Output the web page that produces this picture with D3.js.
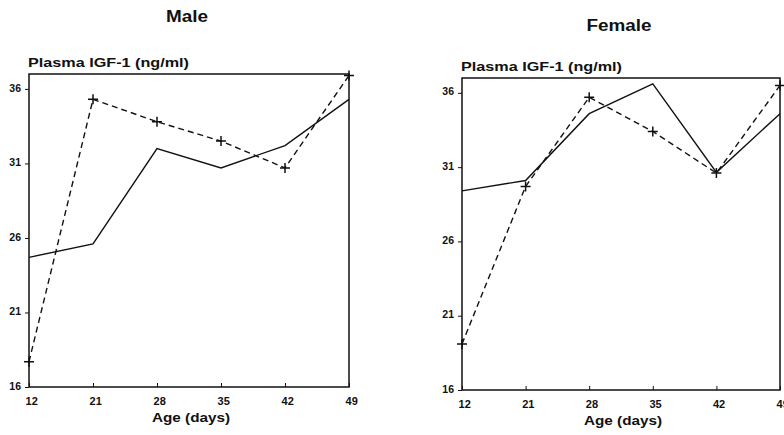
<!DOCTYPE html>
<html>
<head>
<meta charset="utf-8">
<script src="https://cdn.jsdelivr.net/npm/d3@7"></script>
<style>
  body { margin: 0; background: #fff; }
  text { font-family: "Liberation Sans", Arial, sans-serif; font-weight: bold; fill: #111; }
</style>
</head>
<body>
<div id="chart"></div>
<script>
// Data
const ages = ["12", "21", "28", "35", "42", "49"];
const yTicks = [16, 21, 26, 31, 36];
const maleSolid = [24.7, 25.6, 32.0, 30.7, 32.2, 35.3];
const maleDashed = [17.7, 35.3, 33.8, 32.5, 30.7, 36.9];
const femaleSolid = [29.4, 30.1, 34.6, 36.6, 30.65, 34.6];
const femaleDashed = [19.1, 29.7, 35.7, 33.4, 30.6, 36.5];

const width = 784;
const height = 435;

const svg = d3.select("#chart")
    .append("svg")
    .attr("width", width)
    .attr("height", height);

// Panel boxes (left, right, top, bottom)
const panels = [
    { title: "Male", titleW: 42, x0: 29, x1: 349, y0: 74, y1: 387, titleY: 22, solid: maleSolid, dashed: maleDashed },
    { title: "Female", titleW: 65, x0: 462, x1: 780, y0: 78, y1: 390, titleY: 31, solid: femaleSolid, dashed: femaleDashed }
];

panels.forEach(p => {
    const x = d3.scalePoint().domain(ages).range([p.x0, p.x1]);
    const y = d3.scaleLinear().domain([16, 37]).range([p.y1, p.y0]);

    const g = svg.append("g");

    // Frame
    g.append("rect")
        .attr("x", p.x0)
        .attr("y", p.y0)
        .attr("width", p.x1 - p.x0)
        .attr("height", p.y1 - p.y0)
        .attr("fill", "none")
        .attr("stroke", "#111")
        .attr("stroke-width", 1.5);

    // Y axis
    const yAxis = g.append("g")
        .attr("transform", `translate(${p.x0},0)`)
        .call(d3.axisLeft(y).tickValues(yTicks).tickSize(4).tickPadding(4));
    yAxis.select(".domain").remove();
    yAxis.selectAll("line").attr("stroke", "#111");
    yAxis.selectAll("text").style("font-size", "10.5px").attr("dy", "0.2em");

    // X axis
    const xAxis = g.append("g")
        .attr("transform", `translate(0,${p.y1})`)
        .call(d3.axisBottom(x).tickSize(-4).tickPadding(10));
    xAxis.select(".domain").remove();
    xAxis.selectAll("line").attr("stroke", "#111");
    xAxis.selectAll("text").style("font-size", "11px").attr("dx", "0.2em");

    // Titles
    g.append("text")
        .attr("x", (p.x0 + p.x1) / 2 - 2)
        .attr("y", p.titleY)
        .attr("text-anchor", "middle")
        .attr("textLength", p.titleW)
        .attr("lengthAdjust", "spacingAndGlyphs")
        .style("font-size", "16px")
        .text(p.title);

    g.append("text")
        .attr("x", p.x0 - 1)
        .attr("y", p.y0 - 7)
        .attr("textLength", 161)
        .attr("lengthAdjust", "spacingAndGlyphs")
        .style("font-size", "12.5px")
        .text("Plasma IGF-1 (ng/ml)");

    g.append("text")
        .attr("x", (p.x0 + p.x1) / 2 + 2)
        .attr("y", p.y1 + 35)
        .attr("text-anchor", "middle")
        .attr("textLength", 78)
        .attr("lengthAdjust", "spacingAndGlyphs")
        .style("font-size", "13px")
        .text("Age (days)");

    const line = d3.line()
        .x((d, i) => x(ages[i]))
        .y(d => y(d));

    // Solid series
    g.append("path")
        .datum(p.solid)
        .attr("d", line)
        .attr("fill", "none")
        .attr("stroke", "#111")
        .attr("stroke-width", 1.4);

    // Dashed series
    g.append("path")
        .datum(p.dashed)
        .attr("d", line)
        .attr("fill", "none")
        .attr("stroke", "#111")
        .attr("stroke-width", 1.4)
        .attr("stroke-dasharray", "6,4");

    // Plus markers on dashed series
    g.selectAll(".plus")
        .data(p.dashed)
        .join("path")
        .attr("d", (d, i) => {
            const cx = x(ages[i]), cy = y(d);
            return `M${cx - 5},${cy}H${cx + 5}M${cx},${cy - 5}V${cy + 5}`;
        })
        .attr("stroke", "#111")
        .attr("stroke-width", 1.5);
});
</script>
</body>
</html>
